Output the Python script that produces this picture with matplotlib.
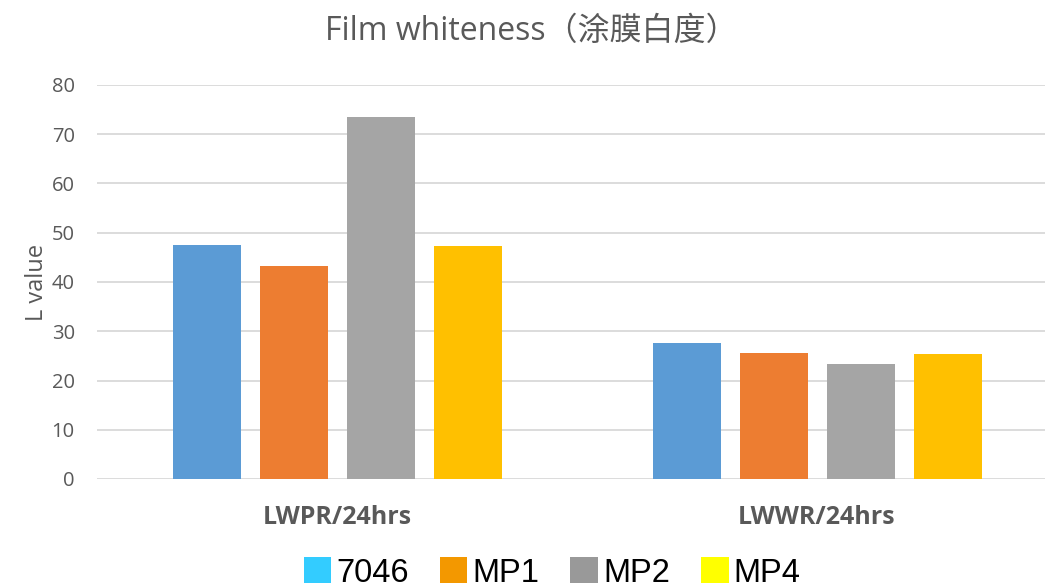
import matplotlib.pyplot as plt
import numpy as np
from matplotlib.patches import Patch

categories = ["LWPR/24hrs", "LWWR/24hrs"]
series_names = ["7046", "MP1", "MP2", "MP4"]
values_7046 = [47.5, 27.6]
values_mp1 = [43.2, 25.6]
values_mp2 = [73.5, 23.4]
values_mp4 = [47.3, 25.4]
y_ticks = [0, 10, 20, 30, 40, 50, 60, 70, 80]

bar_colors = ["#5B9BD5", "#ED7D31", "#A5A5A5", "#FFC000"]
legend_colors = ["#33CCFF", "#F39800", "#999999", "#FFFF00"]
text_color = "#595959"

plt.rcParams["font.family"] = ["Open Sans", "Noto Sans CJK SC", "DejaVu Sans"]

fig = plt.figure(figsize=(10.45, 5.87), dpi=100)
ax = fig.add_axes([97 / 1045, 1 - 479 / 587, 948 / 1045, 394 / 587])

x = np.arange(len(categories))
width = 68 / 480
step = 87 / 480
all_values = [values_7046, values_mp1, values_mp2, values_mp4]
for i, vals in enumerate(all_values):
    offset = (i - 1.5) * step
    ax.bar(x + offset, vals, width, color=bar_colors[i], zorder=3)

ax.set_xlim(-0.5, -0.5 + 948 / 480)
ax.set_ylim(0, 80)
ax.set_yticks(y_ticks)
ax.set_xticks(x)
ax.set_xticklabels(categories, fontsize=18, fontweight="bold", color=text_color)
ax.tick_params(axis="x", length=0, pad=19)
ax.tick_params(axis="y", length=0, pad=16, labelsize=14.5, labelcolor=text_color)
ax.grid(axis="y", color="#D9D9D9", linewidth=1.3, zorder=0)
for side in ["top", "right", "left", "bottom"]:
    ax.spines[side].set_visible(False)

ax.set_ylabel("L value", fontsize=17, color=text_color, labelpad=2)

fig.text(531 / 1045, 1 - 31 / 587, "Film whiteness（涂膜白度）", ha="center", va="center",
         fontsize=23, color=text_color)

handles = [Patch(facecolor=c, edgecolor="none") for c in legend_colors]
fig.legend(handles, series_names, loc="center", bbox_to_anchor=(552 / 1045, 1 - 573 / 587),
           ncol=4, frameon=False, handlelength=0.85, handleheight=0.85, handletextpad=0.15,
           columnspacing=0.95, prop={"family": "Liberation Sans", "size": 23.5})

fig.savefig("out.png", dpi=100)
